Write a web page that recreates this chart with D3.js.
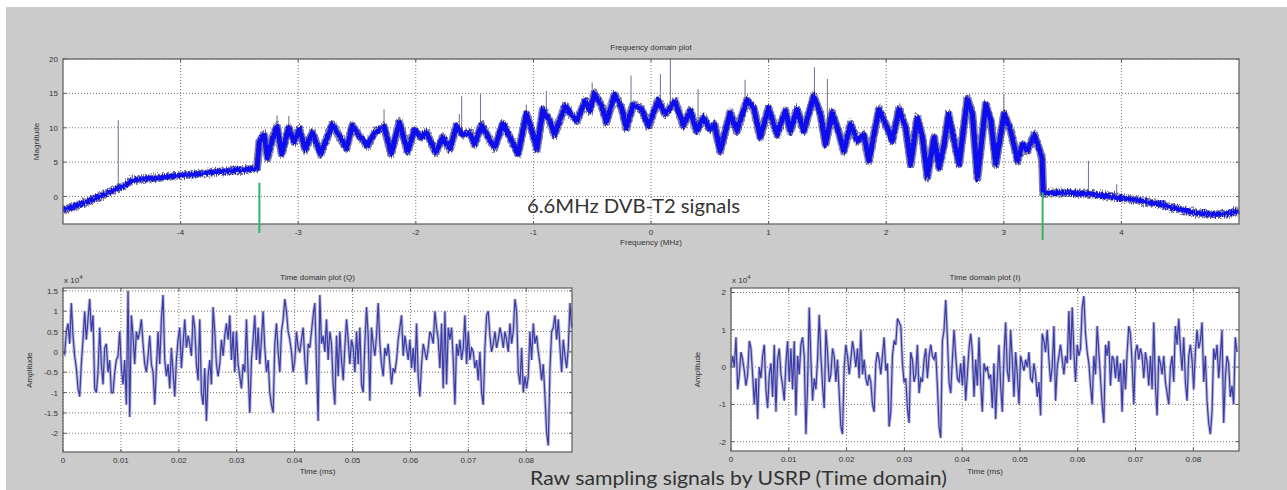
<!DOCTYPE html>
<html>
<head>
<meta charset="utf-8">
<script src="https://cdn.jsdelivr.net/npm/d3@7"></script>
<style>
  html, body { margin: 0; padding: 0; background: #ffffff; }
  svg { display: block; }
</style>
</head>
<body>
<svg id="fig" width="1287" height="490"></svg>
<script>
// ---- Spectrum (magnitude vs frequency, band centre through peaks/troughs) ----
const freqMHz = [
  -5.00, -4.90, -4.80, -4.70, -4.60, -4.53, -4.47, -4.42, -4.35, -4.20, -4.05, -3.90, -3.75, -3.60, -3.45, -3.35,
  -3.33, -3.29, -3.26, -3.22, -3.18, -3.14, -3.08, -3.035, -2.99, -2.94, -2.88, -2.81, -2.76, -2.71, -2.65, -2.59,
  -2.54, -2.47, -2.41, -2.35, -2.27, -2.21, -2.14, -2.07, -2.01, -1.955, -1.91, -1.83, -1.77, -1.71, -1.656, -1.60,
  -1.54, -1.50, -1.44, -1.39, -1.33, -1.26, -1.20, -1.13, -1.06, -1.02, -0.97, -0.92, -0.86, -0.82, -0.73, -0.68,
  -0.63, -0.56, -0.52, -0.48, -0.42, -0.38, -0.31, -0.25, -0.21, -0.15, -0.08, -0.02, 0.06, 0.12, 0.205, 0.276,
  0.333, 0.389, 0.446, 0.50, 0.54, 0.588, 0.674, 0.73, 0.816, 0.873, 0.929, 1.00, 1.071, 1.143, 1.185, 1.242,
  1.299, 1.384, 1.441, 1.484, 1.54, 1.597, 1.64, 1.697, 1.754, 1.81, 1.853, 1.938, 2.009, 2.052, 2.109, 2.166,
  2.208, 2.265, 2.308, 2.35, 2.407, 2.45, 2.493, 2.53, 2.56, 2.62, 2.69, 2.733, 2.776, 2.847, 2.89, 2.932,
  3.003, 3.06, 3.117, 3.16, 3.20, 3.259, 3.302, 3.325,
  3.335, 3.40, 3.55, 3.72, 3.85, 4.01, 4.15, 4.35, 4.50, 4.64, 4.78, 4.90, 5.00
];
const magnitude = [
  -2.0, -1.4, -0.8, -0.1, 0.7, 1.2, 1.6, 2.3, 2.5, 2.7, 3.0, 3.2, 3.5, 3.7, 3.9, 4.1,
  8.0, 9.0, 5.6, 8.3, 10.2, 6.2, 10.0, 8.0, 9.8, 6.8, 9.3, 6.2, 8.3, 10.5, 8.8, 7.0,
  10.3, 8.6, 7.4, 9.3, 10.2, 6.2, 10.8, 6.6, 9.7, 8.6, 9.3, 6.4, 8.6, 6.9, 10.2, 9.0,
  9.3, 7.6, 10.4, 8.8, 7.1, 10.6, 8.6, 6.2, 12.0, 10.0, 6.9, 12.6, 11.0, 9.0, 13.2, 12.0,
  11.0, 13.9, 12.5, 15.0, 13.2, 10.8, 14.8, 12.9, 10.0, 13.4, 12.7, 10.2, 14.0, 12.0, 13.8, 10.3,
  12.5, 9.5, 11.5, 9.8, 10.5, 6.6, 12.2, 9.5, 14.0, 12.9, 8.6, 12.9, 9.0, 12.5, 9.5, 12.7,
  9.5, 14.6, 12.0, 7.6, 12.2, 9.3, 6.6, 10.5, 8.1, 9.0, 5.2, 12.7, 10.0, 8.1, 12.7, 10.0,
  4.7, 11.5, 8.6, 2.8, 8.6, 4.2, 7.6, 12.0, 9.5, 4.7, 14.2, 12.0, 2.7, 13.4, 11.0, 4.7,
  12.0, 9.5, 5.2, 7.6, 6.6, 9.0, 6.9, 5.5,
  0.5, 0.6, 0.5, 0.4, 0.1, -0.2, -0.6, -1.2, -1.9, -2.4, -2.6, -2.5, -2.1
];
// isolated narrow-band peaks above the spectrum
const spikeFreq = [-4.53, -3.18, -3.08, -2.27, -1.63, -1.61, -1.45, -1.06, -0.89, -0.50, -0.17, 0.08, 0.165, 0.40, 0.80, 1.39, 1.50, 3.00, 3.72, 3.96];
const spikeBase = [1.2, 10.0, 9.8, 10.0, 9.5, 9.0, 10.2, 11.8, 12.0, 13.5, 13.0, 13.5, 13.0, 10.5, 13.5, 14.4, 10.0, 12.0, 0.4, -0.1];
const spikeTop  = [11.1, 11.8, 11.7, 12.7, 12.0, 14.6, 14.9, 13.4, 15.4, 16.6, 17.6, 17.8, 20.0, 15.6, 17.0, 18.8, 17.1, 14.9, 5.2, 1.8];
// band edges of the 6.6 MHz channel
const edgeFreq = [-3.33, 3.33];
const edgeTop = [2.0, 0.6];

const freqTicks = [-4, -3, -2, -1, 0, 1, 2, 3, 4];
const magTicks = [0, 5, 10, 15, 20];

// ---- Raw samples (x 10^4) ----
const sampleIntervalMs = 0.000288;
const qAmplitude = [
  0, -0.05, 0.5, 0.7, 0.2, 1.2, 0.4, -0.1, -0.4, -0.9, -1.1, -0.3, 0.3, 1.0, 0.3, 0.8,
  1.3, 0.5, 0.9, -0.9, -1.0, -0.5, 0.6, -0.3, -0.8, 0.1, 0.2, -0.5, -0.2, -1.0, -1.0, -0.5,
  -0.2, -0.1, 0.5, -0.4, -0.8, -0.2, -1.3, 1.5, -1.6, 0.9, 0.4, -0.3, 0.5, 0.3, 0.5, 0.8,
  0.2, -0.3, -0.5, -0.1, 0.4, -0.3, -0.5, -1.3, -0.4, 0.5, -0.3, 0.8, 1.4, -0.2, -0.6, -0.3,
  -0.9, 0.1, -0.5, -1.1, -0.2, 0.3, 0.6, -0.4, 0.2, 0.8, 0.1, 0.4, 0.2, -0.1, 0.9, 0.6,
  -0.3, -0.7, 0.8, -1.0, -1.3, -0.4, -1.7, -0.6, -0.2, -0.8, 1.1, 0.5, -0.3, -0.6, -0.3, 0.3,
  -0.1, 0.4, 0.7, 0.3, 0.9, -0.2, 0.5, -0.5, 0.5, -0.3, -0.6, -0.9, -0.3, -0.5, 0.8, -0.5,
  -1.5, -0.2, 0.3, 0.9, -0.2, 0.6, -0.3, 0.3, 1.0, 0.1, -0.5, -0.2, -1.0, -1.3, -1.5, 0.2,
  0.7, 0.0, -0.5, 0.5, 0.8, 1.3, 1.0, 0.5, 0.3, 0.0, -0.5, -0.2, 0.5, 0.1, 0.0, 0.3,
  0.6, -0.2, -0.8, 0.2, 0.1, 0.5, 0.9, 1.2, -0.3, -1.7, 1.4, 0.2, 0.4, 0.0, 0.8, -0.2,
  0.5,
  0.2, -0.8, -1.3, 0.4, -0.6, 0.5, -0.2, -0.7, 0.1, 0.8, 0.3, -0.3, 0.3, 0.1, -0.5, 0.5,
  -0.3, 0.6, -0.8, -1.0, 0.2, 1.1, 0.4, -1.2, 0.6, 0.2, -0.1, 0.4, 1.2, 0.2, -0.3, -0.6,
  0.1, -0.1, 0.2, -0.3, -0.8, -0.4, -0.5, -0.2, 0.3, 0.6, 0.9, -0.1, 0.4, 0.1, -0.2, 0.3,
  -0.4, 0.1, -0.5, 0.7, -0.6, -1.1, -0.3, 0.2, 0.0, -0.2, 0.1, 0.5, 0.4, 0.2, 1.0, 0.6,
  0.3, -0.4, 0.7, -0.9, 1.0, -0.8, 0.6, 0.3, 0.6, -0.2, -1.3, 0.2, -0.1, 0.3, -0.2, 0.1,
  0.9, -0.3, 0.5, -0.2, 0.1, 0.0, -0.4, -0.2, -0.7, 0.0, -1.0, -1.3, 0.1, 0.9, 1.0, 0.4,
  0.0, 0.2, 0.5, 0.1, 0.3, 0.6, 0.4, 0.1, 0.5, 0.3, 0.0, 0.7, 0.2, 0.5, 1.3, 1.0,
  -0.5, -0.8, 0.1, -1.0, -0.6, -0.9, -0.6, 0.5, -0.2, 0.7, 0.2, 0.4, 0.0, -0.3, -0.7, -0.3,
  -1.1, -2.0, -2.3, -0.4, 0.5, 0.6, 0.9, 0.3, 0.8, 0.1, -0.5, 0.3, -0.1, -0.4, 0.1, 1.2,
  0.6
];
const iAmplitude = [
  0.0, 0.3, 0.0, 0.8, -0.6, -0.2, 0.4, 0.2, -0.1, -0.5, -0.2, 0.7, 0.5, -0.2, -1.0, -0.3,
  -1.4, 0.0, -0.3, 0.3, 0.6, -0.6, -1.1, -0.2, 0.1, -0.8, 0.6, -1.2, 0.2, 0.5, -0.2, -0.5,
  -0.9, 0.1, 0.7, -0.4, 0.5, -0.6, 0.7, -1.3, 0.3, -0.2, 0.6, 0.8, 0.3, -1.8, -0.5, 1.6,
  0.2, -0.9, -0.3, -0.6, 0.2, 1.4, 0.3, -0.5, -1.1, 1.0, 0.4, -0.4, -0.2, 0.5, 0.3, -0.4,
  0.2, -0.7, -1.6, -1.8, 0.0, 0.6, 0.3, -0.2, 0.2, 0.7, 0.4, 0.0, 0.5, -0.3, 1.0, -0.2,
  0.2, -0.3, -0.5, -0.2, -0.4, -1.0, -1.2, 0.1, 0.4, 0.2, -0.2, 0.3, 0.8, -0.1, 0.1, -1.6,
  -1.2, 0.3, 0.7, 0.6, 1.3, 1.2, 1.1, 0.1, -0.4, -0.3, -1.1, -1.5, 0.4, 0.2, -0.4, -0.2,
  0.6, -0.7, -0.3, -0.4, 0.2, 0.5, -0.3, 0.3, 0.6, 0.3, 0.2, 0.4, -0.5, -1.6, -1.9, 0.7,
  1.0, 1.8, 0.8, -0.4, -0.7, 0.2, 1.0, 0.3, -0.3, -0.4, 0.1, -0.5, 0.3, -0.9, -0.2, 0.5,
  0.9, 0.4, -0.8, 0.2, -0.5, 0.8, -0.4, -1.2, 0.1, -0.1, 0.0, -0.3,
  -0.2, -1.1, 0.1, -1.4, -0.3, 0.6, -0.5, -1.2, 0.3, 1.2, -0.1, -0.4, 1.0, 0.2, -0.8, 0.4,
  -0.2, -1.0, 0.3, 0.1, -0.1, 0.2, 0.0, 0.4, -0.3, -0.4, 0.1, -0.2, -0.8, -0.4, -1.3, 0.9,
  0.7, 0.4, 1.0, 0.2, -0.4, 0.0, 1.1, -0.9, 0.0, 0.3, 0.6, 0.2, -0.2, 0.3, 0.1, 1.5,
  0.2, 1.6, 0.4, -0.4, 0.6, 0.3, 0.5, 1.6, 1.9, 0.9, 0.4, 0.1, -0.5, -1.0, 0.3, -0.2,
  1.1, 0.4, -0.3, -1.0, -1.5, 0.6, 0.3, 0.7, -0.5, 0.3, 0.2, -0.3, 0.3, -0.4, 0.1, -1.2,
  0.2, -0.6, 0.4, 1.1, 0.9, 0.1, -1.0, 0.4, 0.6, 0.2, 0.5, 0.3, -0.3, 0.4, 0.1, -0.5,
  0.3, -0.6, 1.2, -0.5, -1.3, 0.3, 0.1, -0.2, 0.3, -0.4, -0.7, -1.0, 0.0, 0.3, -0.4, 1.1,
  0.6, 1.3, 0.5, -0.1, 0.8, -0.4, -0.9, 0.3, 0.6, 0.2, -0.6, 0.4, 1.0, 0.5, 0.7, 1.2,
  -0.4, 0.3, -0.9, -1.5, -1.8, -1.2, 0.5, 0.2, 0.6, -0.3, 0.3, 1.0, -1.5, -0.3, 0.3, 0.1,
  -0.8, -0.5, -1.0, 0.8, 0.4
];
const timeTicks = [0, 0.01, 0.02, 0.03, 0.04, 0.05, 0.06, 0.07, 0.08];
const qTicks = [-2, -1.5, -1, -0.5, 0, 0.5, 1, 1.5];
const iTicks = [-2, -1, 0, 1, 2];

// ---------------------------------------------------------------------------
const svg = d3.select("#fig");
const W = 1287, H = 490;
const axisFont = "'Liberation Sans', Arial, sans-serif";
const noteFont = "Lato, 'Open Sans', sans-serif";

// fuzzy edge for the dense spectrum trace (vertical jitter only)
const defs = svg.append("defs");
const fuzz = defs.append("filter").attr("id", "fuzz")
  .attr("x", "-2%").attr("y", "-20%").attr("width", "104%").attr("height", "140%");
fuzz.append("feTurbulence").attr("type", "fractalNoise")
  .attr("baseFrequency", "0.9 0.35").attr("numOctaves", 2).attr("seed", 3).attr("result", "n");
fuzz.append("feColorMatrix").attr("in", "n").attr("type", "matrix")
  .attr("values", "0 0 0 0 0.5  0 1 0 0 0  0 0 1 0 0  0 0 0 0 1").attr("result", "nv");
fuzz.append("feDisplacementMap").attr("in", "SourceGraphic").attr("in2", "nv")
  .attr("scale", 7).attr("xChannelSelector", "R").attr("yChannelSelector", "G");

// figure panel
svg.append("rect").attr("x", 0).attr("y", 0).attr("width", W).attr("height", H).attr("fill", "#ffffff");
svg.append("rect").attr("x", 6).attr("y", 7).attr("width", W - 6).attr("height", H - 7).attr("fill", "#cbcbcb");

// generic MATLAB-style axes: white box, dotted grid, labels
function drawAxes(g, x, y, xTicks, yTicks, opt) {
  const [x0, x1] = x.range();
  const [y0, y1] = y.range(); // y0 bottom, y1 top
  g.append("rect").attr("x", x0).attr("y", y1).attr("width", x1 - x0).attr("height", y0 - y1)
    .attr("fill", "#ffffff");
  g.append("g").selectAll("line").data(xTicks).join("line")
    .attr("x1", d => x(d)).attr("x2", d => x(d)).attr("y1", y1).attr("y2", y0)
    .attr("stroke", "#777777").attr("stroke-width", 1).attr("stroke-dasharray", "1,2");
  g.append("g").selectAll("line").data(yTicks).join("line")
    .attr("x1", x0).attr("x2", x1).attr("y1", d => y(d)).attr("y2", d => y(d))
    .attr("stroke", "#777777").attr("stroke-width", 1).attr("stroke-dasharray", "1,2");
  g.append("g").selectAll("text").data(xTicks).join("text")
    .attr("x", d => x(d)).attr("y", y0 + opt.xTickDy)
    .attr("text-anchor", "middle").attr("font-family", axisFont).attr("font-size", 8)
    .attr("fill", "#333333").text(opt.xFmt);
  g.append("g").selectAll("text").data(yTicks).join("text")
    .attr("x", x0 - 5).attr("y", d => y(d) + 3)
    .attr("text-anchor", "end").attr("font-family", axisFont).attr("font-size", 8)
    .attr("fill", "#333333").text(opt.yFmt);
  g.append("text").attr("x", (x0 + x1) / 2).attr("y", opt.titleY)
    .attr("text-anchor", "middle").attr("font-family", axisFont).attr("font-size", 8)
    .attr("fill", "#333333").text(opt.title);
  g.append("text").attr("x", (x0 + x1) / 2).attr("y", opt.xLabelY)
    .attr("text-anchor", "middle").attr("font-family", axisFont).attr("font-size", 8)
    .attr("fill", "#333333").text(opt.xLabel);
  g.append("text")
    .attr("transform", `translate(${opt.yLabelX},${(y0 + y1) / 2}) rotate(-90)`)
    .attr("text-anchor", "middle").attr("font-family", axisFont).attr("font-size", 8)
    .attr("fill", "#333333").text(opt.yLabel);
}

// inward ticks on all four sides plus the box
function frameAxes(g, x, y, xTicks, yTicks) {
  const [x0, x1] = x.range();
  const [y0, y1] = y.range();
  const t = 3;
  const ticks = g.append("g").attr("stroke", "#555555").attr("stroke-width", 1);
  xTicks.forEach(d => {
    ticks.append("line").attr("x1", x(d)).attr("x2", x(d)).attr("y1", y0).attr("y2", y0 - t);
    ticks.append("line").attr("x1", x(d)).attr("x2", x(d)).attr("y1", y1).attr("y2", y1 + t);
  });
  yTicks.forEach(d => {
    ticks.append("line").attr("x1", x0).attr("x2", x0 + t).attr("y1", y(d)).attr("y2", y(d));
    ticks.append("line").attr("x1", x1).attr("x2", x1 - t).attr("y1", y(d)).attr("y2", y(d));
  });
  g.append("rect").attr("x", x0).attr("y", y1).attr("width", x1 - x0).attr("height", y0 - y1)
    .attr("fill", "none").attr("stroke", "#666666").attr("stroke-width", 1.3);
}

// ---------------- Frequency domain plot ----------------
const fx = d3.scaleLinear().domain([-5, 5]).range([63, 1239]);
const fy = d3.scaleLinear().domain([-4, 20]).range([224, 59]);
const gF = svg.append("g");
drawAxes(gF, fx, fy, freqTicks, magTicks, {
  xTickDy: 11, xFmt: d => d, yFmt: d => d,
  title: "Frequency domain plot", titleY: 50,
  xLabel: "Frequency (MHz)", xLabelY: 245,
  yLabel: "Magnitude", yLabelX: 39
});
const spec = freqMHz.map((f, i) => [f, magnitude[i]]);
const specLine = d3.line().x(d => fx(d[0])).y(d => fy(d[1]));
gF.append("g").selectAll("line").data(spikeFreq).join("line")
  .attr("x1", d => fx(d)).attr("x2", d => fx(d))
  .attr("y1", (d, i) => fy(spikeBase[i])).attr("y2", (d, i) => fy(spikeTop[i]))
  .attr("stroke", "#7a7a9c").attr("stroke-width", 1.1);
const trace = gF.append("g").attr("filter", "url(#fuzz)");
trace.append("path").datum(spec).attr("d", specLine)
  .attr("fill", "none").attr("stroke", "#2a2a66").attr("stroke-opacity", 0.6)
  .attr("stroke-width", 8).attr("stroke-linejoin", "round");
trace.append("path").datum(spec).attr("d", specLine)
  .attr("fill", "none").attr("stroke", "#0808f0")
  .attr("stroke-width", 5).attr("stroke-linejoin", "round");
frameAxes(gF, fx, fy, freqTicks, magTicks);
// channel edge markers
const edgeDrop = [9, 16];
gF.append("g").selectAll("line").data(edgeFreq).join("line")
  .attr("x1", d => fx(d)).attr("x2", d => fx(d))
  .attr("y1", (d, i) => fy(edgeTop[i])).attr("y2", (d, i) => fy.range()[0] + edgeDrop[i])
  .attr("stroke", "#36b262").attr("stroke-width", 2);
svg.append("text").attr("x", 527).attr("y", 213)
  .attr("font-family", noteFont).attr("font-size", 20).attr("fill", "#333333")
  .attr("textLength", 213).attr("lengthAdjust", "spacingAndGlyphs")
  .text("6.6MHz DVB-T2 signals");

// ---------------- Time domain plots ----------------
function timePlot(values, xRange, yDomain, yRange, yTicks, title, yFmt) {
  const x = d3.scaleLinear().domain([0, 0.0879]).range(xRange);
  const y = d3.scaleLinear().domain(yDomain).range(yRange);
  const g = svg.append("g");
  drawAxes(g, x, y, timeTicks, yTicks, {
    xTickDy: 11, xFmt: d => d, yFmt: yFmt,
    title: title, titleY: 280,
    xLabel: "Time (ms)", xLabelY: 474,
    yLabel: "Amplitude", yLabelX: xRange[0] - 31
  });
  const line = d3.line().x((d, i) => x(i * sampleIntervalMs)).y(d => y(d));
  g.append("path").datum(values).attr("d", line)
    .attr("fill", "none").attr("stroke", "#a4a6c6").attr("stroke-opacity", 0.75)
    .attr("stroke-width", 3.2).attr("stroke-linejoin", "miter").attr("stroke-miterlimit", 3);
  g.append("path").datum(values).attr("d", line)
    .attr("fill", "none").attr("stroke", "#3a3aa8").attr("stroke-width", 1.2);
  frameAxes(g, x, y, timeTicks, yTicks);
  const ex = g.append("text").attr("x", xRange[0] + 1).attr("y", 283)
    .attr("font-family", axisFont).attr("font-size", 8).attr("fill", "#333333");
  ex.append("tspan").text("x 10");
  ex.append("tspan").attr("dy", -4).attr("font-size", 6).text("4");
}
timePlot(qAmplitude, [63, 572], [-2.46, 1.57], [452, 288], qTicks, "Time domain plot (Q)", d => d);
timePlot(iAmplitude, [731, 1239], [-2.25, 2.12], [451, 288], iTicks, "Time domain plot (I)", d => d);

svg.append("text").attr("x", 530).attr("y", 485)
  .attr("font-family", noteFont).attr("font-size", 20).attr("fill", "#333333")
  .attr("textLength", 417).attr("lengthAdjust", "spacingAndGlyphs")
  .text("Raw sampling signals by USRP (Time domain)");
</script>
</body>
</html>
